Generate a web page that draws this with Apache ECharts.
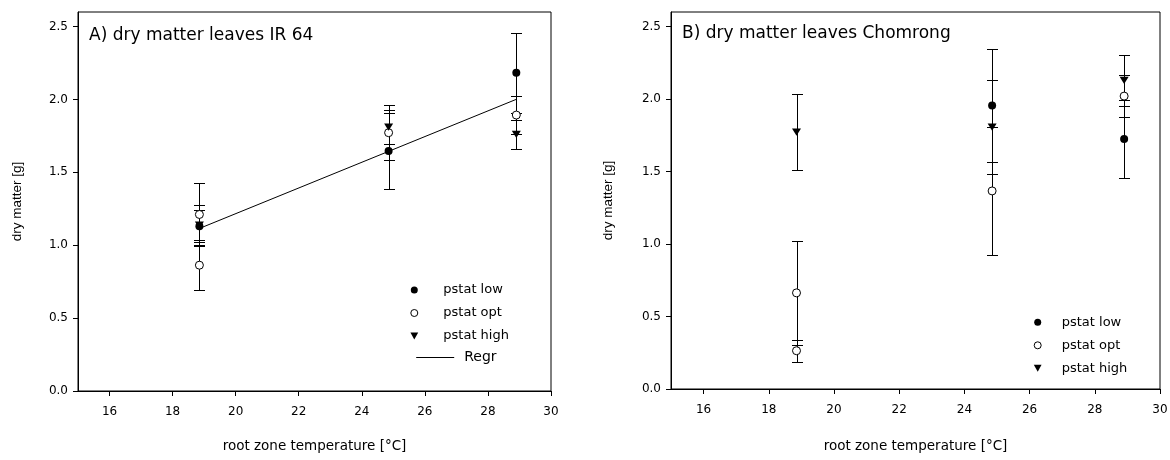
<!DOCTYPE html>
<html>
<head>
<meta charset="utf-8">
<script src="https://cdn.jsdelivr.net/npm/echarts@6/dist/echarts.min.js"></script>
<style>
html,body{margin:0;padding:0;background:#fff;}
#chart{width:1170px;height:460px;}
</style>
</head>
<body>
<div id="chart"></div>
<script>
// ---- data ----
const titleA = 'A) dry matter leaves IR 64';
const titleB = 'B) dry matter leaves Chomrong';
const xName = 'root zone temperature [°C]';
const yName = 'dry matter [g]';
const xTicks = [16, 18, 20, 22, 24, 26, 28, 30];
const yTicks = [0, 0.5, 1.0, 1.5, 2.0, 2.5];

// Panel A (IR 64)
const lowAX = [18.85, 24.85, 28.9];
const lowAY = [1.13, 1.646, 2.184];
const lowAE = [0.11, 0.263, 0.275];
const optAX = [18.85, 18.85, 24.85, 28.9];
const optAY = [1.211, 0.863, 1.772, 1.893];
const optAE = [0.218, 0.17, 0.19, 0.133];
const highAX = [18.85, 24.85, 28.9];
const highAY = [1.138, 1.81, 1.76];
const highAE = [0.135, 0.115, 0.10];
const regrAX = [18.85, 28.9];
const regrAY = [1.115, 2.001];

// Panel B (Chomrong)
const lowBX = [24.85, 28.9];
const lowBY = [1.956, 1.724];
const lowBE = [0.388, 0.266];
const optBX = [18.85, 18.85, 24.85, 28.9];
const optBY = [0.663, 0.264, 1.366, 2.020];
const optBE = [0.358, 0.076, 0.443, 0.145];
const highBX = [18.85, 24.85, 28.9];
const highBY = [1.772, 1.806, 2.128];
const highBE = [0.264, 0.322, 0.177];

// ---- helpers ----
const zip3 = (xs, ys, es) => xs.map((x, i) => [x, ys[i], es[i]]);
const zip2 = (xs, ys) => xs.map((x, i) => [x, ys[i]]);
const HFONT = 'DejaVu Sans';
const VFONT = 'Liberation Sans, Arial, sans-serif';
const TRI = 'path://M0,0L10,0L5,9Z';

function errRender(params, api) {
  const x = api.value(0), y = api.value(1), e = api.value(2);
  const p1 = api.coord([x, y + e]);
  const p2 = api.coord([x, y - e]);
  const cx = Math.round(p1[0]) + 0.5;
  const t = Math.round(p1[1]) + 0.5, b = Math.round(p2[1]) + 0.5;
  const hw = 5.5;
  const st = {stroke: '#000', lineWidth: 1};
  return {type: 'group', children: [
    {type: 'line', shape: {x1: cx, y1: t, x2: cx, y2: b}, style: st},
    {type: 'line', shape: {x1: cx - hw, y1: t, x2: cx + hw, y2: t}, style: st},
    {type: 'line', shape: {x1: cx - hw, y1: b, x2: cx + hw, y2: b}, style: st}
  ]};
}

function errSeries(idx, data) {
  return {type: 'custom', xAxisIndex: idx, yAxisIndex: idx, renderItem: errRender,
    data: data, z: 1, silent: true, encode: {x: 0, y: 1}};
}
function lowSeries(idx, data) {
  return {name: 'pstat low', type: 'scatter', xAxisIndex: idx, yAxisIndex: idx,
    symbol: 'circle', symbolSize: 8, itemStyle: {color: '#000', opacity: 1}, data: data, z: 4};
}
function optSeries(idx, data) {
  return {name: 'pstat opt', type: 'scatter', xAxisIndex: idx, yAxisIndex: idx,
    symbol: 'circle', symbolSize: 8,
    itemStyle: {color: '#fff', borderColor: '#000', borderWidth: 1, opacity: 1}, data: data, z: 4};
}
function highSeries(idx, data) {
  return {name: 'pstat high', type: 'scatter', xAxisIndex: idx, yAxisIndex: idx,
    symbol: TRI, symbolSize: [9, 8], symbolKeepAspect: true, itemStyle: {color: '#000', opacity: 1}, data: data, z: 4};
}

function xAxisDef(idx, gap) {
  return {type: 'value', gridIndex: idx, min: 15, max: 30,
    name: xName, nameLocation: 'middle', nameGap: gap,
    nameTextStyle: {fontFamily: HFONT, fontSize: 13.5, color: '#000'},
    axisLine: {show: true, onZero: false, lineStyle: {color: '#000', width: 1}},
    axisTick: {show: true, inside: false, length: 5, customValues: xTicks, lineStyle: {color: '#000'}},
    axisLabel: {show: true, customValues: xTicks, margin: 15, fontFamily: HFONT, fontSize: 12, color: '#000'},
    splitLine: {show: false}};
}
function yAxisDef(idx, gap) {
  return {type: 'value', gridIndex: idx, min: 0, max: 2.6,
    name: yName, nameLocation: 'middle', nameGap: gap, nameRotate: 90,
    nameTextStyle: {fontFamily: VFONT, fontSize: 13.5, color: '#000'},
    axisLine: {show: true, onZero: false, lineStyle: {color: '#000', width: 1}},
    axisTick: {show: true, inside: false, length: 5, customValues: yTicks, lineStyle: {color: '#000'}},
    axisLabel: {show: true, customValues: yTicks, margin: 10, fontFamily: HFONT, fontSize: 12, color: '#000',
      formatter: v => Number(v).toFixed(1)},
    splitLine: {show: false}};
}

const legendText = {fontFamily: HFONT, fontSize: 13, color: '#000'};
const legendItemStyle = {borderWidth: 1};

const option = {
  animation: false,
  backgroundColor: '#fff',
  title: [
    {text: titleA, left: 89, top: 27, padding: 0,
      textStyle: {fontFamily: HFONT, fontSize: 17, fontWeight: 'normal', color: '#000'}},
    {text: titleB, left: 682, top: 25.5, padding: 0,
      textStyle: {fontFamily: HFONT, fontSize: 17, fontWeight: 'normal', color: '#000'}}
  ],
  grid: [
    {left: 78, right: 619, top: 12, bottom: 69, show: true, borderColor: '#000', borderWidth: 1,
      containLabel: false, outerBoundsMode: 'none'},
    {left: 671, right: 10, top: 12, bottom: 71, show: true, borderColor: '#000', borderWidth: 1,
      containLabel: false, outerBoundsMode: 'none'}
  ],
  xAxis: [xAxisDef(0, 48.5), xAxisDef(1, 50)],
  yAxis: [yAxisDef(0, 54), yAxisDef(1, 56)],
  legend: [
    {data: ['pstat low', 'pstat opt', 'pstat high'], orient: 'vertical', left: 410.3, top: 283.5,
      itemWidth: 48, itemHeight: 7, itemGap: 10, padding: 0, itemStyle: legendItemStyle,
      textStyle: legendText, selectedMode: false},
    {data: [{name: 'Regr', itemStyle: {opacity: 0}}], orient: 'vertical', left: 415.7, top: 350.5,
      itemWidth: 38, itemHeight: 4, itemGap: 0, padding: 0,
      lineStyle: {color: '#000', width: 1},
      textStyle: {fontFamily: HFONT, fontSize: 14, color: '#000', padding: [0, 0, 0, 5]}, selectedMode: false},
    {data: ['pstat low', 'pstat opt', 'pstat high'], orient: 'vertical', left: 1033.7, top: 315.8,
      itemWidth: 38, itemHeight: 7, itemGap: 10, padding: 0, itemStyle: legendItemStyle,
      textStyle: legendText, selectedMode: false}
  ],
  series: [
    errSeries(0, zip3(lowAX, lowAY, lowAE)),
    errSeries(0, zip3(optAX, optAY, optAE)),
    errSeries(0, zip3(highAX, highAY, highAE)),
    {name: 'Regr', type: 'line', xAxisIndex: 0, yAxisIndex: 0, symbol: 'none', showSymbol: false,
      lineStyle: {color: '#000', width: 1}, itemStyle: {color: '#000'}, data: zip2(regrAX, regrAY), z: 2},
    lowSeries(0, zip2(lowAX, lowAY)),
    optSeries(0, zip2(optAX, optAY)),
    highSeries(0, zip2(highAX, highAY)),
    errSeries(1, zip3(lowBX, lowBY, lowBE)),
    errSeries(1, zip3(optBX, optBY, optBE)),
    errSeries(1, zip3(highBX, highBY, highBE)),
    lowSeries(1, zip2(lowBX, lowBY)),
    optSeries(1, zip2(optBX, optBY)),
    highSeries(1, zip2(highBX, highBY))
  ]
};

const chart = echarts.init(document.getElementById('chart'), null, {renderer: 'canvas'});
chart.setOption(option);
</script>
</body>
</html>
